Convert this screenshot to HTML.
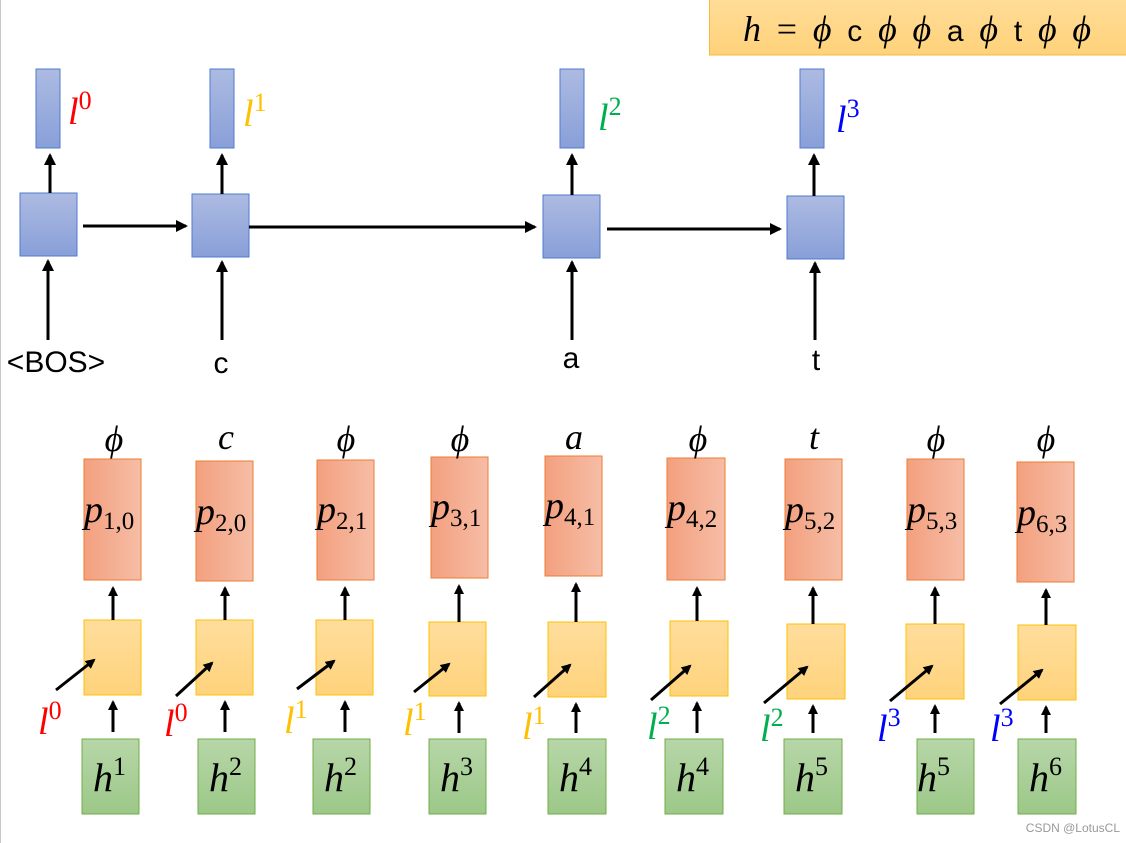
<!DOCTYPE html>
<html><head><meta charset="utf-8"><style>
html,body{margin:0;padding:0;background:#fff;}
svg{display:block;}
text{font-family:"Liberation Serif",serif;}
.m{font-style:italic;}
.s{font-family:"Liberation Sans",sans-serif;}
</style></head><body>
<svg width="1126" height="843" viewBox="0 0 1126 843" xmlns="http://www.w3.org/2000/svg">
<defs>
<linearGradient id="gb" x1="0" y1="0" x2="0" y2="1"><stop offset="0" stop-color="#adbbe2"/><stop offset="1" stop-color="#889fd8"/></linearGradient>
<linearGradient id="go" x1="0" y1="0" x2="1" y2="0"><stop offset="0" stop-color="#f3a07f"/><stop offset="1" stop-color="#f6bda6"/></linearGradient>
<linearGradient id="gy" x1="0" y1="0" x2="0" y2="1"><stop offset="0" stop-color="#ffdd9c"/><stop offset="1" stop-color="#ffd37c"/></linearGradient>
<linearGradient id="gg" x1="0" y1="0" x2="0" y2="1"><stop offset="0" stop-color="#b7d6a8"/><stop offset="1" stop-color="#9cc888"/></linearGradient>
<linearGradient id="gf" x1="0" y1="0" x2="0" y2="1"><stop offset="0" stop-color="#ffdc98"/><stop offset="1" stop-color="#ffd27a"/></linearGradient>
<marker id="ar" markerWidth="10" markerHeight="10" refX="8" refY="5" orient="auto" markerUnits="userSpaceOnUse"><path d="M0,0 L10,5 L0,10 z" fill="#000"/></marker>
<marker id="ar2" markerWidth="12" markerHeight="12" refX="10" refY="6" orient="auto" markerUnits="userSpaceOnUse"><path d="M0,0 L12,6 L0,12 z" fill="#000"/></marker>
</defs>
<line x1="0.5" y1="0" x2="0.5" y2="843" stroke="#c8c8c8"/>
<rect x="709.5" y="-1" width="420" height="56" fill="url(#gf)" stroke="#f5b942"/>
<text x="743" y="41" font-size="36" textLength="348" lengthAdjust="spacing"><tspan class="m">h</tspan> =  <tspan class="m">ϕ</tspan> <tspan class="s" font-size="30">c</tspan> <tspan class="m">ϕ</tspan> <tspan class="m">ϕ</tspan> <tspan class="s" font-size="30">a</tspan> <tspan class="m">ϕ</tspan> <tspan class="s" font-size="30">t</tspan> <tspan class="m">ϕ</tspan> <tspan class="m">ϕ</tspan></text>

<g stroke="#4f7bd0" stroke-width="1" fill="url(#gb)">
<rect x="36" y="69" width="24" height="79"/>
<rect x="210" y="69" width="24" height="79"/>
<rect x="560" y="69" width="24" height="79"/>
<rect x="800" y="69" width="24" height="79"/>
<rect x="20" y="193" width="57" height="63"/>
<rect x="192" y="194" width="57" height="63"/>
<rect x="543" y="195" width="57" height="63"/>
<rect x="787" y="196" width="57" height="63"/>
</g>
<g stroke="#000" stroke-width="3" marker-end="url(#ar2)">
<line x1="50" y1="193" x2="50" y2="155"/>
<line x1="222" y1="194" x2="222" y2="155"/>
<line x1="572" y1="195" x2="572" y2="155"/>
<line x1="814" y1="196" x2="814" y2="155"/>
<line x1="83" y1="226" x2="186" y2="226"/>
<line x1="249" y1="227" x2="535" y2="227"/>
<line x1="607" y1="229" x2="780" y2="229"/>
<line x1="48" y1="340" x2="48" y2="261"/>
<line x1="222" y1="340" x2="222" y2="262"/>
<line x1="572" y1="340" x2="572" y2="262"/>
<line x1="815" y1="340" x2="815" y2="263"/>
</g>
<g font-size="38">
<text x="68" y="124" class="m" fill="#f00">l<tspan font-size="26" dy="-15" font-style="normal">0</tspan></text>
<text x="243" y="126" class="m" fill="#ffc000">l<tspan font-size="26" dy="-15" font-style="normal">1</tspan></text>
<text x="598" y="130" class="m" fill="#00b050">l<tspan font-size="26" dy="-15" font-style="normal">2</tspan></text>
<text x="836" y="132" class="m" fill="#00f">l<tspan font-size="26" dy="-15" font-style="normal">3</tspan></text>
</g>
<g font-size="30" text-anchor="middle">
<text x="56" y="372" class="s">&lt;BOS&gt;</text>
<text x="221" y="373" class="s">c</text>
<text x="571" y="368" class="s">a</text>
<text x="816" y="370" class="s">t</text>
</g>

<g stroke="#ed7d31" fill="url(#go)">
<rect x="84" y="459" width="57" height="121"/>
<rect x="196" y="461" width="57" height="120"/>
<rect x="317" y="460" width="57" height="120"/>
<rect x="431" y="457" width="57" height="121"/>
<rect x="545" y="456" width="57" height="120"/>
<rect x="667" y="458" width="58" height="122"/>
<rect x="785" y="459" width="57" height="121"/>
<rect x="907" y="459" width="57" height="121"/>
<rect x="1017" y="462" width="57" height="120"/>
</g>
<g stroke="#ffc000" fill="url(#gy)">
<rect x="84" y="620" width="57" height="75"/>
<rect x="196" y="620" width="57" height="75"/>
<rect x="316" y="620" width="57" height="75"/>
<rect x="429" y="622" width="57" height="74"/>
<rect x="548" y="622" width="58" height="75"/>
<rect x="670" y="621" width="58" height="75"/>
<rect x="787" y="624" width="58" height="75"/>
<rect x="906" y="624" width="58" height="75"/>
<rect x="1018" y="625" width="58" height="75"/>
</g>
<g stroke="#70ad47" fill="url(#gg)">
<rect x="82" y="739" width="57" height="75"/>
<rect x="198" y="739" width="57" height="75"/>
<rect x="313" y="739" width="57" height="75"/>
<rect x="429" y="739" width="57" height="75"/>
<rect x="548" y="739" width="58" height="75"/>
<rect x="665" y="739" width="58" height="75"/>
<rect x="784" y="739" width="58" height="75"/>
<rect x="917" y="739" width="57" height="75"/>
<rect x="1018" y="739" width="58" height="75"/>
</g>
<g stroke="#000" stroke-width="3" marker-end="url(#ar)">
<line x1="113" y1="620" x2="113" y2="588"/><line x1="113" y1="732" x2="113" y2="702"/><line x1="56" y1="690" x2="94" y2="660"/>
<line x1="225" y1="620" x2="225" y2="588"/><line x1="225" y1="732" x2="225" y2="702"/><line x1="176" y1="696" x2="212" y2="663"/>
<line x1="345" y1="620" x2="345" y2="588"/><line x1="345" y1="732" x2="345" y2="702"/><line x1="297" y1="689" x2="334" y2="661"/>
<line x1="459" y1="622" x2="459" y2="586"/><line x1="459" y1="733" x2="459" y2="703"/><line x1="414" y1="692" x2="449" y2="664"/>
<line x1="576" y1="622" x2="576" y2="584"/><line x1="576" y1="733" x2="576" y2="704"/><line x1="534" y1="697" x2="570" y2="665"/>
<line x1="697" y1="621" x2="697" y2="588"/><line x1="697" y1="733" x2="697" y2="703"/><line x1="651" y1="700" x2="690" y2="666"/>
<line x1="813" y1="624" x2="813" y2="588"/><line x1="813" y1="733" x2="813" y2="706"/><line x1="764" y1="703" x2="807" y2="667"/>
<line x1="935" y1="624" x2="935" y2="588"/><line x1="935" y1="733" x2="935" y2="706"/><line x1="890" y1="701" x2="932" y2="666"/>
<line x1="1046" y1="625" x2="1046" y2="590"/><line x1="1046" y1="733" x2="1046" y2="707"/><line x1="1000" y1="704" x2="1042" y2="670"/>
</g>
<g font-size="38" class="m">
<text x="38" y="734" fill="#f00">l<tspan font-size="26" dy="-15" font-style="normal">0</tspan></text>
<text x="164" y="736" fill="#f00">l<tspan font-size="26" dy="-15" font-style="normal">0</tspan></text>
<text x="284" y="733" fill="#ffc000">l<tspan font-size="26" dy="-15" font-style="normal">1</tspan></text>
<text x="403" y="735" fill="#ffc000">l<tspan font-size="26" dy="-15" font-style="normal">1</tspan></text>
<text x="522" y="739" fill="#ffc000">l<tspan font-size="26" dy="-15" font-style="normal">1</tspan></text>
<text x="647" y="739" fill="#00b050">l<tspan font-size="26" dy="-15" font-style="normal">2</tspan></text>
<text x="760" y="741" fill="#00b050">l<tspan font-size="26" dy="-15" font-style="normal">2</tspan></text>
<text x="877" y="741" fill="#00f">l<tspan font-size="26" dy="-15" font-style="normal">3</tspan></text>
<text x="990" y="741" fill="#00f">l<tspan font-size="26" dy="-15" font-style="normal">3</tspan></text>
</g>
<g font-size="36" class="m" text-anchor="middle">
<text x="114" y="451">ϕ</text>
<text x="226" y="449">c</text>
<text x="346" y="451">ϕ</text>
<text x="460" y="451">ϕ</text>
<text x="574" y="449">a</text>
<text x="698" y="451">ϕ</text>
<text x="814" y="449">t</text>
<text x="936" y="451">ϕ</text>
<text x="1046" y="451">ϕ</text>
</g>
<g font-size="38">
<text x="84" y="522" class="m">p<tspan font-size="25" font-style="normal" dy="7">1,0</tspan></text>
<text x="196" y="524" class="m">p<tspan font-size="25" font-style="normal" dy="7">2,0</tspan></text>
<text x="317" y="522" class="m">p<tspan font-size="25" font-style="normal" dy="7">2,1</tspan></text>
<text x="431" y="519" class="m">p<tspan font-size="25" font-style="normal" dy="7">3,1</tspan></text>
<text x="545" y="518" class="m">p<tspan font-size="25" font-style="normal" dy="7">4,1</tspan></text>
<text x="667" y="520" class="m">p<tspan font-size="25" font-style="normal" dy="7">4,2</tspan></text>
<text x="785" y="522" class="m">p<tspan font-size="25" font-style="normal" dy="7">5,2</tspan></text>
<text x="907" y="522" class="m">p<tspan font-size="25" font-style="normal" dy="7">5,3</tspan></text>
<text x="1017" y="525" class="m">p<tspan font-size="25" font-style="normal" dy="7">6,3</tspan></text>
</g>
<g font-size="40">
<text x="93" y="791" class="m">h<tspan font-size="26" font-style="normal" dy="-16">1</tspan></text>
<text x="209" y="791" class="m">h<tspan font-size="26" font-style="normal" dy="-16">2</tspan></text>
<text x="324" y="791" class="m">h<tspan font-size="26" font-style="normal" dy="-16">2</tspan></text>
<text x="440" y="791" class="m">h<tspan font-size="26" font-style="normal" dy="-16">3</tspan></text>
<text x="559" y="791" class="m">h<tspan font-size="26" font-style="normal" dy="-16">4</tspan></text>
<text x="676" y="791" class="m">h<tspan font-size="26" font-style="normal" dy="-16">4</tspan></text>
<text x="795" y="791" class="m">h<tspan font-size="26" font-style="normal" dy="-16">5</tspan></text>
<text x="917" y="791" class="m">h<tspan font-size="26" font-style="normal" dy="-16">5</tspan></text>
<text x="1029" y="791" class="m">h<tspan font-size="26" font-style="normal" dy="-16">6</tspan></text>
</g>
<text x="1120" y="832" text-anchor="end" font-size="12" fill="#999" class="s">CSDN @LotusCL</text>
</svg>
</body></html>
